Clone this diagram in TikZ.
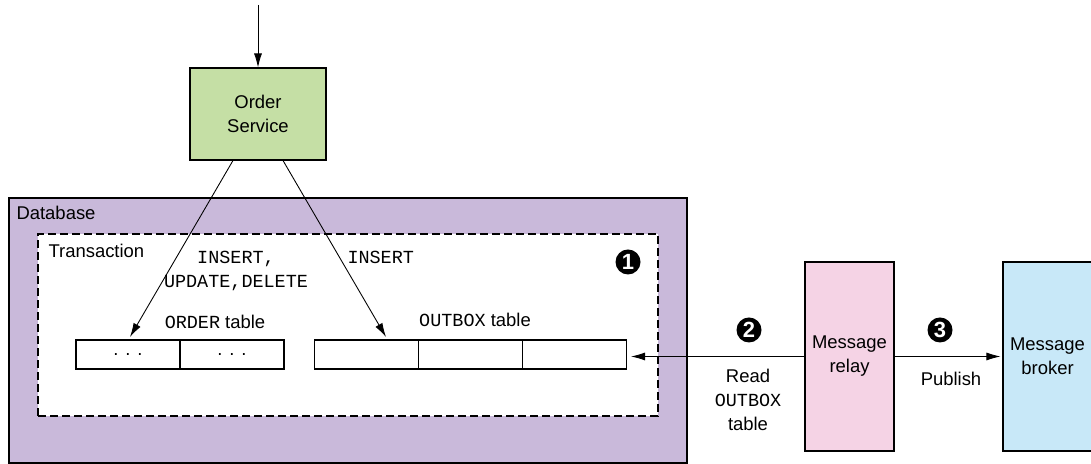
\documentclass[tikz,border=0pt]{standalone}
\usepackage{fontspec}
\setmainfont{Liberation Sans}
\setmonofont{Liberation Mono}
\usetikzlibrary{positioning,arrows.meta}
\definecolor{servicegreen}{HTML}{C5DFA5}
\definecolor{dbpurple}{HTML}{C9B9DA}
\definecolor{relaypink}{HTML}{F5D3E5}
\definecolor{brokerblue}{HTML}{C8E8F8}
\tikzset{
    >={Latex[length=2.8mm,width=1.6mm]},
    every edge/.style={draw,->,line width=0.5pt}
}

\begin{document}
\begin{tikzpicture}[font=\fontsize{10.5}{13.6}\selectfont,
                    line width=0.6pt,
                    box/.style={draw,align=center,inner sep=0pt},
                    cell/.style={draw,fill=white,minimum width=2.08cm,minimum height=0.58cm,inner sep=0pt},
                    num/.style={circle,fill=black,text=white,inner sep=0pt,minimum size=0.50cm,
                                font=\bfseries\fontsize{12.5}{12.5}\selectfont}]

\useasboundingbox (0,0) rectangle (21.82,9.28);

% Containers
\node[draw,fill=dbpurple,minimum width=13.56cm,minimum height=5.30cm] (db) at (6.96cm,2.67cm) {};
\node[draw,fill=white,dash pattern=on 0.16cm off 0.08cm,minimum width=12.40cm,minimum height=3.64cm] (tx) at (6.96cm,2.78cm) {};
\node[anchor=west,inner sep=0pt] (dblabel) at (0.32cm,5.02cm) {Database};
\node[anchor=west,inner sep=0pt] (txlabel) at (0.96cm,4.26cm) {Transaction};

% Services
\node[box,fill=servicegreen,minimum width=2.72cm,minimum height=1.84cm] (os) at (5.16cm,7.00cm) {Order\\Service};
\node[box,fill=relaypink,minimum width=1.78cm,minimum height=3.78cm] (mr) at (16.99cm,2.15cm) {Message\\relay};
\node[box,fill=brokerblue,minimum width=1.78cm,minimum height=3.78cm] (mb) at (20.95cm,2.15cm) {Message\\broker};

% Tables
\node[cell] (o1) at (2.56cm,2.19cm) {. . .};
\node[cell] (o2) at (4.64cm,2.19cm) {. . .};
\node[cell] (x1) at (7.33cm,2.19cm) {};
\node[cell] (x2) at (9.41cm,2.19cm) {};
\node[cell] (x3) at (11.49cm,2.19cm) {};
\node (ordername) at (4.30cm,2.84cm) {\texttt{ORDER} table};
\node (outboxname) at (9.50cm,2.88cm) {\texttt{OUTBOX} table};

% Labels
\node[align=center,font=\ttfamily\fontsize{10.5}{13.6}\selectfont] (oplabel) at (4.72cm,3.86cm) {INSERT,\\UPDATE,DELETE};
\node[anchor=west,inner sep=0pt,font=\ttfamily\fontsize{10.5}{13.6}\selectfont] (inslabel) at (6.94cm,4.14cm) {INSERT};
\node[num] (n1) at (12.56cm,4.04cm) {1};
\node[num] (n2) at (14.98cm,2.68cm) {2};
\node[num] (n3) at (18.80cm,2.68cm) {3};
\node[align=center] (readlabel) at (14.96cm,1.28cm) {Read\\\texttt{OUTBOX}\\table};
\node (publabel) at (19.02cm,1.70cm) {Publish};

% Ends
\coordinate (request) at (5.16cm,9.18cm);
\coordinate (ordertip) at (2.60cm,2.54cm);
\coordinate (outboxtip) at (7.72cm,2.54cm);
\coordinate (readtip) at (12.62cm,2.15cm);

% Arrows
\path (request) edge (os.north);
\path ([xshift=-0.50cm]os.south) edge (ordertip);
\path ([xshift=0.50cm]os.south) edge (outboxtip);
\path (mr.west) edge (readtip);
\path (mr.east) edge [shorten >=0.04cm] (mb.west);

\end{tikzpicture}
\end{document}
